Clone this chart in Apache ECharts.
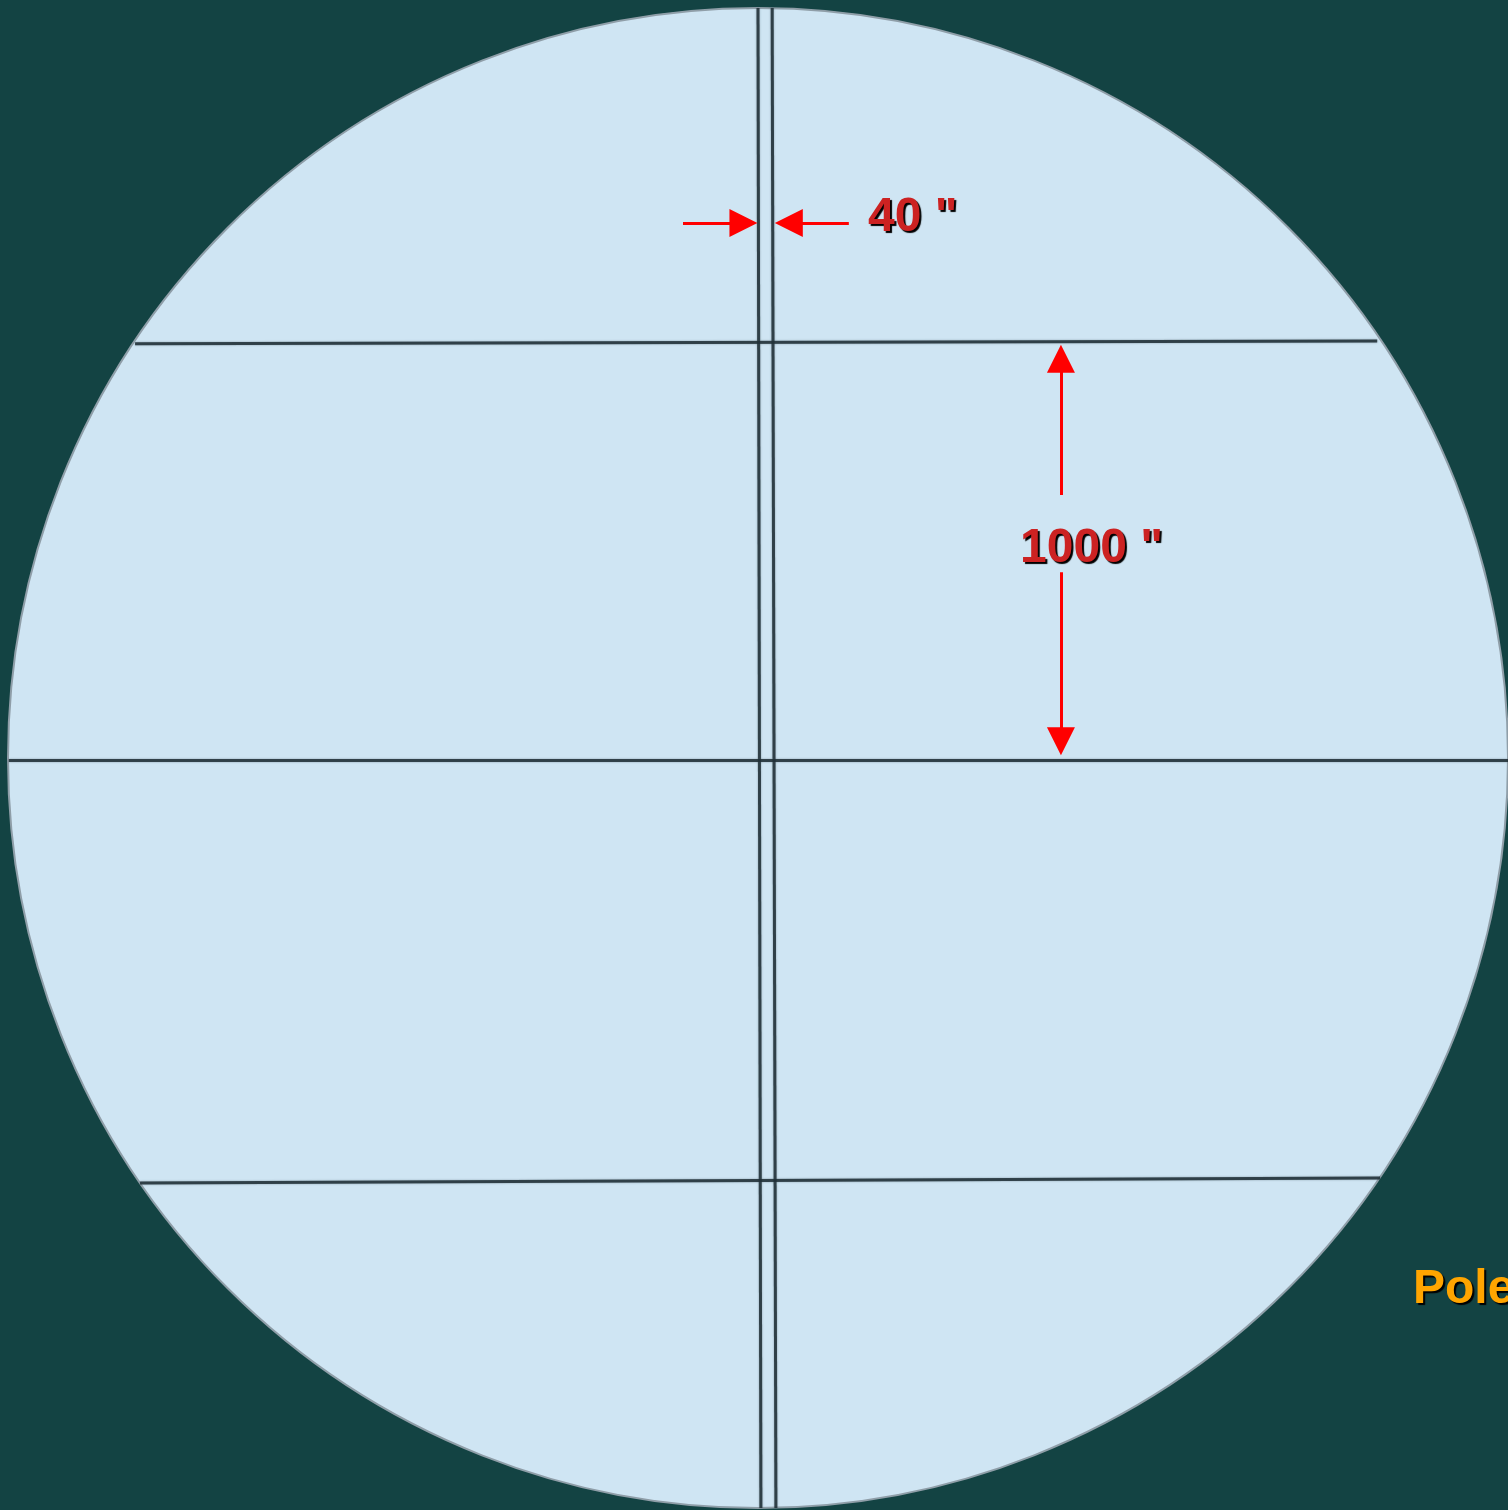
<!DOCTYPE html>
<html>
<head>
<meta charset="utf-8">
<script src="https://cdn.jsdelivr.net/npm/echarts@6/dist/echarts.min.js"></script>
<style>
  html, body { margin: 0; padding: 0; background: #134343; }
  #chart { width: 1508px; height: 1510px; }
</style>
</head>
<body>
<div id="chart"></div>
<script>
// all positions in arc-seconds, field centre = 0,0
const fieldRadius = 1800
const reticleLines = [
  [0, 1800, 7, -1800],
  [34, 1800, 43, -1800],
  [-1495, 994, 1486, 1001],
  [-1798, -5, 1800, -5],
  [-1483, -1020, 1493, -1008]
]
// [x1, y1, tipX, tipY]
const arrowLines = [
  [-180, 1284, -2, 1284],
  [218, 1284, 41, 1284],
  [727, 631, 727, 991],
  [727, 446, 727, 7]
]
const redLabels = [
  ['40 "', 264, 1296],
  ['1000 "', 629, 502]
]
const poleLabel = ['Pole', 1572, -1277]

// arrow heads are drawn centred on the line end, so pull the end back by half a head
const halfHead = 33

function shortenToTip(l) {
  const dx = l[2] - l[0], dy = l[3] - l[1]
  const len = Math.sqrt(dx * dx + dy * dy)
  return [[l[0], l[1]], [l[2] - dx / len * halfHead, l[3] - dy / len * halfHead]]
}

const chart = echarts.init(document.getElementById('chart'), null, { renderer: 'canvas' })

const textStyle = {
  fontFamily: 'Liberation Sans, Arial, sans-serif',
  fontWeight: 'bold',
  fontSize: 48,
  opacity: 1,
  textShadowColor: '#000',
  textShadowOffsetX: 2,
  textShadowOffsetY: 2,
  textShadowBlur: 1
}

const option = {
  backgroundColor: '#134343',
  animation: false,
  grid: { left: 8, top: 8, width: 1500, height: 1500 },
  xAxis: { type: 'value', min: -1800, max: 1800, show: false },
  yAxis: { type: 'value', min: -1800, max: 1800, show: false },
  series: [
    {
      // field of view
      type: 'custom',
      clip: false,
      data: [[0, 0, fieldRadius]],
      renderItem: function (params, api) {
        const c = api.coord([api.value(0), api.value(1)])
        const r = api.size([api.value(2), 0])[0]
        return {
          type: 'circle',
          shape: { cx: c[0], cy: c[1], r: r },
          style: { fill: '#cfe5f3', stroke: '#8f9ea8', lineWidth: 2 }
        }
      },
      silent: true
    },
    {
      type: 'lines',
      coordinateSystem: 'cartesian2d',
      data: reticleLines.map(l => ({ coords: [[l[0], l[1]], [l[2], l[3]]] })),
      lineStyle: { color: '#1f2e35', width: 3, opacity: 0.85, shadowColor: 'rgba(60,80,90,0.6)', shadowBlur: 2 },
      symbol: 'none',
      silent: true
    },
    {
      type: 'lines',
      coordinateSystem: 'cartesian2d',
      data: arrowLines.map(l => ({ coords: shortenToTip(l) })),
      lineStyle: { color: '#ff0000', width: 3, opacity: 1 },
      symbol: ['none', 'triangle'],
      symbolSize: [28, 28],
      silent: true
    },
    {
      type: 'scatter',
      symbolSize: 0,
      itemStyle: { opacity: 1 },
      data: redLabels.map(d => ({ name: d[0], value: [d[1], d[2]] })),
      label: Object.assign({
        show: true, position: 'right', distance: 0,
        formatter: '{b}', color: '#cc2222'
      }, textStyle),
      silent: true
    },
    {
      type: 'scatter',
      symbolSize: 0,
      clip: false,
      itemStyle: { opacity: 1 },
      data: [{ name: poleLabel[0], value: [poleLabel[1], poleLabel[2]] }],
      label: Object.assign({
        show: true, position: 'right', distance: 0,
        formatter: '{b}', color: '#ffa500'
      }, textStyle),
      silent: true
    }
  ]
}

chart.setOption(option)
</script>
</body>
</html>
